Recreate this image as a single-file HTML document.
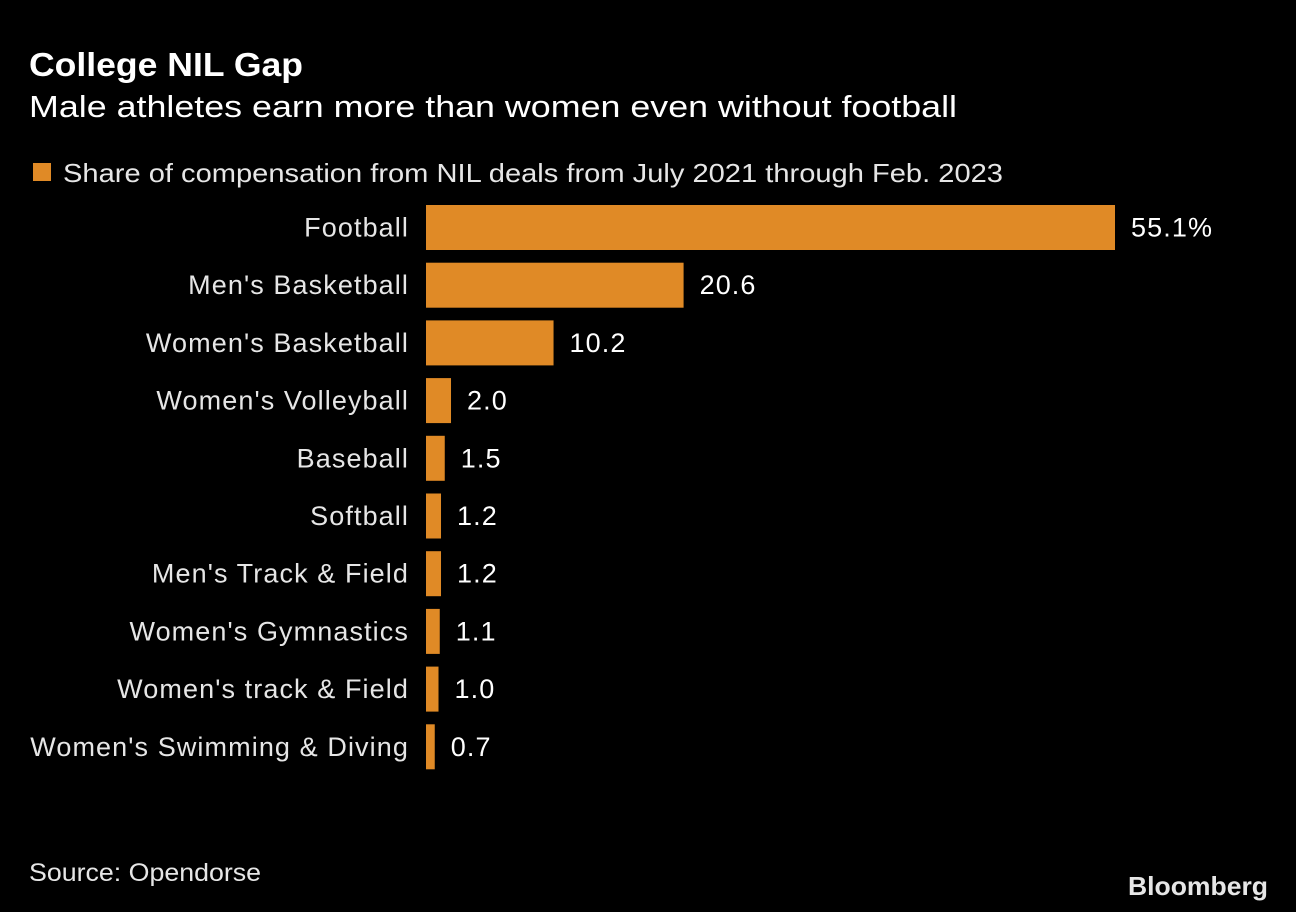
<!DOCTYPE html>
<html><head><meta charset="utf-8">
<style>
html,body{margin:0;padding:0;background:#000;}
svg{display:block;font-family:"Liberation Sans",sans-serif;}
</style></head>
<body>
<svg id="chart" width="1296" height="912" viewBox="0 0 1296 912">
<rect width="1296" height="912" fill="#000"/>
<text x="29" y="76" fill="#fff" font-size="33" font-weight="bold" textLength="274" lengthAdjust="spacingAndGlyphs">College NIL Gap</text>
<text x="29" y="117" fill="#fff" font-size="31" textLength="928" lengthAdjust="spacingAndGlyphs">Male athletes earn more than women even without football</text>
<rect x="33" y="163" width="18" height="18" fill="#e08a26"/>
<text x="63" y="182" fill="#e6e6e6" font-size="26" textLength="940" lengthAdjust="spacingAndGlyphs">Share of compensation from NIL deals from July 2021 through Feb. 2023</text>
<g id="bars"></g>
<text x="29" y="881" fill="#e6e6e6" font-size="25" textLength="232" lengthAdjust="spacingAndGlyphs">Source: Opendorse</text>
<text x="1268" y="895" text-anchor="end" fill="#e6e6e6" font-size="26" font-weight="bold" textLength="140" lengthAdjust="spacingAndGlyphs">Bloomberg</text>
</svg>
<script>
const categories = ["Football","Men's Basketball","Women's Basketball","Women's Volleyball","Baseball","Softball","Men's Track & Field","Women's Gymnastics","Women's track & Field","Women's Swimming & Diving"];
const values = [55.1,20.6,10.2,2.0,1.5,1.2,1.2,1.1,1.0,0.7];
const valueLabels = ["55.1%","20.6","10.2","2.0","1.5","1.2","1.2","1.1","1.0","0.7"];

const NS = "http://www.w3.org/2000/svg";
const x0 = 426, pxPerUnit = 689/55.1;
const xScale = v => v * pxPerUnit;
const rowTop = 205, rowStep = 57.7, barH = 45;
const yScale = i => rowTop + i * rowStep;
const g = document.getElementById('bars');
categories.forEach((c, i) => {
  const y = yScale(i);
  const w = xScale(values[i]);
  const r = document.createElementNS(NS, 'rect');
  r.setAttribute('x', x0); r.setAttribute('y', y);
  r.setAttribute('width', w); r.setAttribute('height', barH);
  r.setAttribute('fill', '#e08a26');
  
  
  g.appendChild(r);
  const t = document.createElementNS(NS, 'text');
  t.setAttribute('x', 409); t.setAttribute('y', y + barH/2 + 9);
  t.setAttribute('text-anchor', 'end'); t.setAttribute('fill', '#e6e6e6');
  t.setAttribute('font-size', '27');
  t.setAttribute('letter-spacing', '1.1');
  t.textContent = c;
  
  
  g.appendChild(t);
  const v = document.createElementNS(NS, 'text');
  v.setAttribute('x', x0 + w + 16); v.setAttribute('y', y + barH/2 + 9);
  v.setAttribute('fill', '#fff'); v.setAttribute('font-size', '27');
  v.setAttribute('letter-spacing', '1.1');
  v.textContent = valueLabels[i];
  
  
  g.appendChild(v);
});
</script>
</body></html>
